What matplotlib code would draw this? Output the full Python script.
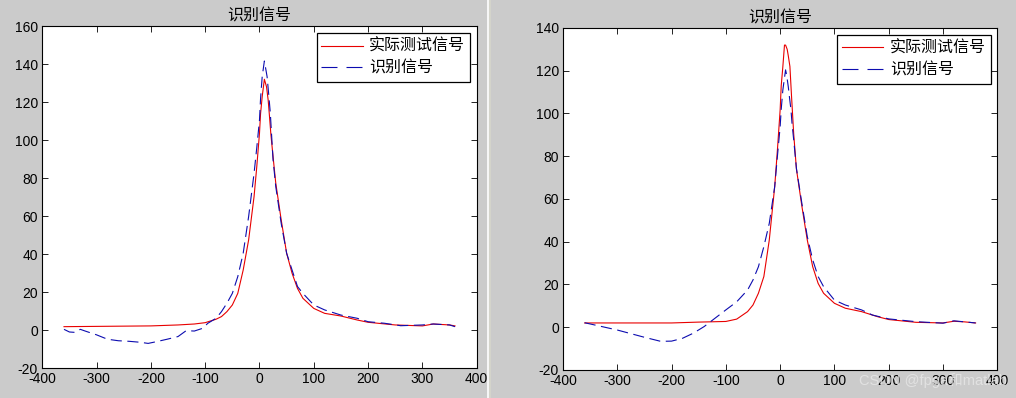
#!/usr/bin/env python3

import matplotlib
matplotlib.use('Agg')
import matplotlib.pyplot as plt
from matplotlib.lines import Line2D

plt.rcParams['font.family'] = ['Liberation Sans', 'Noto Sans CJK SC', 'DejaVu Sans']
plt.rcParams['lines.scale_dashes'] = False
plt.rcParams['axes.unicode_minus'] = False

title = '识别信号'
legend_labels = ['实际测试信号', '识别信号']

# left figure
x_red_1 = [-360, -200, -150, -120, -100, -80, -70, -60, -50, -40, -30, -20, -10, -5, 0, 2, 5, 9, 13, 16, 18,
           21, 25, 30, 40, 50, 60, 70, 80, 100, 120, 150, 180, 200, 250, 300, 320, 350, 360]
y_red_1 = [1.9, 2.3, 2.8, 3.3, 4.0, 5.8, 7.2, 9.8, 13.3, 19.4, 31.7, 47.5, 70.3, 86.0, 103.6, 114.0, 122.9, 132.0,
           128.0, 121.0, 114.0, 103.0, 91.3, 77.3, 58.0, 40.5, 30.0, 22.0, 16.8, 11.5, 8.9, 7.5, 5.4, 4.2, 2.8,
           2.3, 3.3, 2.8, 2.3]

x_blue_1 = [-360, -350, -340, -330, -320, -300, -280, -260, -240, -220, -205, -190, -170, -150, -135, -120,
            -105, -95, -80, -70, -60, -50, -40, -30, -20, -10, -5, 0, 2, 5, 9, 14, 17, 20, 22, 25, 30, 40, 50,
            60, 70, 80, 100, 120, 150, 180, 200, 230, 260, 300, 320, 350, 360]
y_blue_1 = [0.5, -0.9, -1.1, 0.5, -0.5, -2.4, -4.7, -5.5, -5.8, -6.3, -6.9, -6.0, -4.7, -3.3, -0.2, -0.4,
            1.0, 3.7, 6.3, 9.8, 14.2, 19.4, 28.2, 40.5, 59.8, 82.5, 96.0, 110.6, 122.0, 133.4, 141.6, 133.4,
            124.0, 114.0, 104.0, 89.6, 75.5, 56.2, 40.5, 31.7, 23.0, 19.4, 13.3, 10.7, 8.0, 6.3, 4.5, 3.7, 2.4,
            2.8, 3.3, 2.8, 1.9]

# right figure
x_red_2 = [-360, -200, -150, -100, -80, -60, -50, -40, -30, -20, -10, -5, 0, 2, 5, 8, 10, 13, 15, 18, 21, 25,
           30, 40, 50, 60, 70, 80, 100, 120, 150, 180, 200, 250, 300, 320, 340, 360]
y_red_2 = [2.0, 2.0, 2.4, 2.7, 3.8, 7.3, 10.4, 15.9, 23.7, 40.8, 65.8, 83.0, 101.6, 113.0, 121.9, 132.0, 132.0,
           130.0, 127.0, 122.0, 108.0, 90.4, 74.0, 56.7, 40.8, 28.3, 20.5, 15.9, 11.2, 8.9, 7.3, 4.9, 3.6, 2.3,
           2.0, 2.8, 2.5, 2.0]

x_blue_2 = [-360, -300, -250, -220, -200, -180, -160, -140, -120, -100, -80, -60, -50, -40, -30, -20, -10, -5,
            0, 2, 5, 10, 12, 15, 17, 20, 22, 25, 30, 40, 50, 60, 70, 80, 100, 120, 150, 170, 200, 250, 300, 320,
            360]
y_blue_2 = [2.1, -1.3, -4.7, -6.6, -6.5, -5.2, -2.8, 0.3, 4.2, 8.1, 11.9, 17.4, 22.1, 28.3, 37.7, 48.6, 65.8,
            80.0, 93.8, 102.0, 111.0, 120.4, 118.0, 112.5, 108.0, 101.6, 95.0, 87.6, 74.3, 58.0, 42.4, 31.5, 23.7,
            19.0, 12.7, 10.4, 8.1, 5.7, 3.9, 2.6, 1.9, 3.0, 2.0]

panels = [
    (x_red_1, y_red_1, x_blue_1, y_blue_1, (-20, 160), [0.0416, 0.0746, 0.4276, 0.8600]),
    (x_red_2, y_red_2, x_blue_2, y_blue_2, (-20, 140), [0.5541, 0.0704, 0.4275, 0.8593]),
]

red = '#e80000'
blue = '#0c0cb0'

fig = plt.figure(figsize=(10.16, 3.98), dpi=100)
fig.patch.set_facecolor('#cbcbcb')

for xr, yr, xb, yb, ylim, pos in panels:
    ax = fig.add_axes(pos)
    ax.plot(xr, yr, color=red, lw=0.8)
    ax.plot(xb, yb, color=blue, lw=0.8, ls=(0, (8, 4)))
    ax.set_xlim(-400, 400)
    ax.set_ylim(*ylim)
    ax.set_xticks(range(-400, 401, 100))
    ax.set_yticks(range(ylim[0], ylim[1] + 1, 20))
    ax.tick_params(direction='in', length=4, width=0.6, top=True, right=True,
                   labelsize=10, pad=3, colors='black')
    for sp in ax.spines.values():
        sp.set_linewidth(0.8)
    ax.set_title(title, fontsize=11.5, pad=4, family=['Noto Sans CJK SC', 'DejaVu Sans'])
    handles = [Line2D([], [], color=red, lw=0.8),
               Line2D([], [], color=blue, lw=0.8, ls=(0, (11.5, 6.5)))]
    leg = ax.legend(handles, legend_labels, loc='upper right',
                    bbox_to_anchor=(1 - 6.7 / 434, 1 - 7.3 / 342), borderaxespad=0,
                    fancybox=False, framealpha=1, edgecolor='black', handlelength=2.6,
                    handletextpad=0.4, labelspacing=0.3, borderpad=0.3,
                    prop={'family': ['Noto Sans CJK SC', 'DejaVu Sans'], 'size': 11.5})
    leg.get_frame().set_linewidth(0.9)

# divider between the two windows
fig.add_artist(Line2D([487.5 / 1016, 487.5 / 1016], [0, 1], color='white', lw=1.2, transform=fig.transFigure))
fig.add_artist(Line2D([489.5 / 1016, 489.5 / 1016], [0, 1], color='#d6d6cc', lw=1.2, transform=fig.transFigure))

fig.text(0.918, 0.045, 'CSDN @fpga和matlab', fontsize=10.5, color='#e6e6e6', alpha=0.85,
         ha='center', va='center', family=['Liberation Sans', 'Noto Sans CJK SC'])

plt.savefig('out.png', dpi=100, facecolor=fig.get_facecolor())
